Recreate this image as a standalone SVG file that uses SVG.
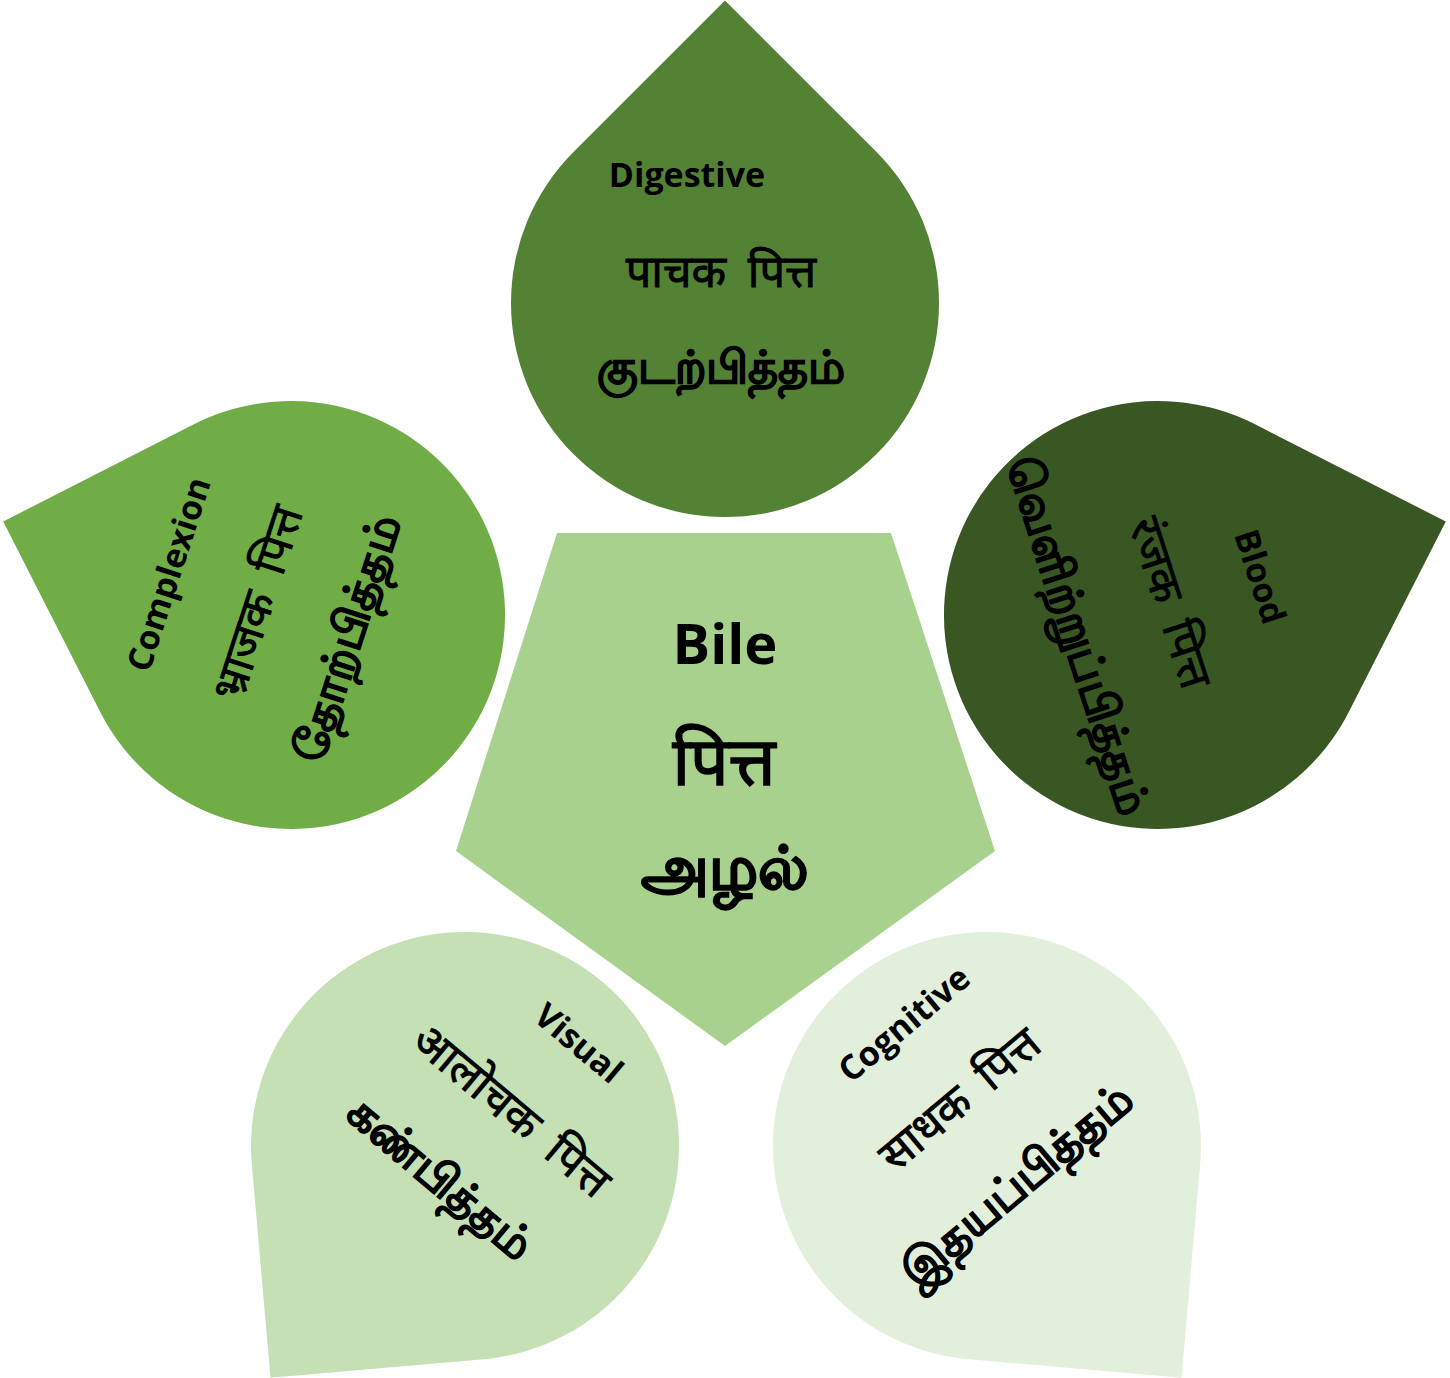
<svg xmlns="http://www.w3.org/2000/svg" width="1450" height="1378" viewBox="0 0 1450 1378">
  <style>
    .t { font-family: 'Noto Sans', sans-serif; font-weight: bold; fill: #000; text-anchor: middle; }
    .en { font-family: 'Open Sans', 'Noto Sans', sans-serif; font-size: 34px; }
    .dv { font-size: 45px; font-weight: normal; word-spacing: 10px; stroke: #000; stroke-width: 0.9px; }
    .ta { font-size: 46px; stroke: #000; stroke-width: 1px; }
  </style>
  <defs>
    <path id="petal" d="M 0 -302.6 L 151.3 -151.3 A 214 214 0 1 1 -151.3 -151.3 Z"/>
  </defs>
  <rect width="1450" height="1378" fill="#ffffff"/>

  <g id="node-bile">
    <polygon points="557,533 891,533 995,851 725,1046 456,851" fill="#A9D18E"/>
    <text class="t" x="725" y="664" style="font-family:'Open Sans','Noto Sans',sans-serif;font-size:56px">Bile</text>
    <text class="t" x="724" y="785" style="font-size:68px;font-weight:normal;stroke:#000;stroke-width:1.6px">पित्त</text>
    <text class="t" x="725" y="889" style="font-size:61px;stroke:#000;stroke-width:1.4px">அழல்</text>
  </g>

  <g id="node-digestive" transform="translate(725,303)">
    <use href="#petal" fill="#548235"/>
    <text class="t en" x="-38" y="-116">Digestive</text>
    <text class="t dv" x="-4" y="-16">पाचक पित्त</text>
    <text class="t ta" x="-4" y="80">குடற்பித்தம்</text>
  </g>

  <g id="node-blood" transform="translate(1158,615) rotate(72)">
    <use href="#petal" fill="#385723"/>
    <text class="t en" x="-5" y="-97">Blood</text>
    <text class="t dv" x="-8" y="0">रंजक पित्त</text>
    <text class="t ta" x="-5" y="98">வெளிற்றுப்பித்தம்</text>
  </g>

  <g id="node-complexion" transform="translate(291,615) rotate(-72)">
    <use href="#petal" fill="#70AD47"/>
    <text class="t en" x="1" y="-117">Complexion</text>
    <text class="t dv" x="1" y="-20">भ्राजक पित्त</text>
    <text class="t ta" x="-5" y="76">தோற்பித்தம்</text>
  </g>

  <g id="node-visual" transform="translate(465,1146)">
    <use href="#petal" fill="#C5E0B4" transform="rotate(220)"/>
    <g transform="rotate(40)">
      <text class="t en" x="21" y="-140">Visual</text>
      <text class="t dv" x="13" y="-42">आलोचक पित्त</text>
      <text class="t ta" x="2" y="56">கண்பித்தம்</text>
    </g>
  </g>

  <g id="node-cognitive" transform="translate(987,1146)">
    <use href="#petal" fill="#E2EFDA" transform="rotate(140)"/>
    <g transform="rotate(-40)">
      <text class="t en" x="15" y="-135">Cognitive</text>
      <text class="t dv" x="9" y="-38">साधक पित्त</text>
      <text class="t ta" x="-2" y="64">இதயப்பித்தம்</text>
    </g>
  </g>
</svg>
